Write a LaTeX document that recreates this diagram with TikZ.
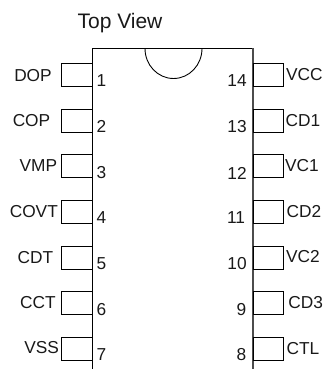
\documentclass[tikz,border=0pt]{standalone}
\usepackage{fontspec}
\setmainfont{Liberation Sans}
\tikzset{
  pinbox/.style={draw=black,line width=0.9pt,minimum width=30.5pt,minimum height=23pt,inner sep=0pt,outer sep=0pt},
  txt/.style={inner sep=0pt,outer sep=0pt,font=\fontsize{17.3}{19}\selectfont,text=black!90},
  titletxt/.style={inner sep=0pt,outer sep=0pt,font=\fontsize{21}{23}\selectfont,text=black!90},
  body/.style={line width=0.9pt,draw=black}
}
\begin{document}
\begin{tikzpicture}[x=1pt,y=-1pt]
\useasboundingbox (0,0) rectangle (326,369);
\coordinate (bl) at (92.3,369);
\coordinate (tl) at (92.3,48.5);
\coordinate (tr) at (253,48.5);
\coordinate (br) at (253,369);
\coordinate (nl) at (145,48.5);
\coordinate (nr) at (202,48.5);
\draw[body] (bl) -- (tl) -- (tr);
\draw[body,draw=black!70,line width=1.1pt] (tr) -- (br);
\draw[body] (nl) arc[start angle=180,end angle=360,x radius=28.5,y radius=-30];
\node[titletxt] (title) at (120,23.5) {Top View};
\foreach \n/\y/\lab/\lx/\ly/\nx/\ny in {
 1/75/DOP/33/75.5/101.5/81,
 2/120.7/COP/31.5/120.5/101.5/126.5,
 3/166.4/VMP/38.3/166/101.5/173,
 4/212/COVT/33.8/211.5/101.5/217.5,
 5/257.6/CDT/35.3/257.5/101.5/264,
 6/303.2/CCT/38/303/101.5/310,
 7/349/VSS/41.7/348/101.5/355}{
  \node[pinbox,anchor=east] (L\n) at (92.3,\y) {};
  \node[txt] (LL\n) at (\lx,\ly) {\lab};
  \node[txt] (LN\n) at (\nx,\ny) {\n};
}
\foreach \n/\y/\lab/\lx/\ly/\nx/\ny in {
 14/75/VCC/304.3/75/237/81,
 13/120.7/CD1/303/120.5/237/126.5,
 12/166.4/VC1/302/166/237/173,
 11/212/CD2/304/212/236/217.5,
 10/257.6/VC2/303/257/237/264,
 9/303.2/CD3/305.7/303/241.5/310,
 8/349/CTL/303/349/241.5/355}{
  \node[pinbox,anchor=west] (R\n) at (253,\y) {};
  \node[txt] (RL\n) at (\lx,\ly) {\lab};
  \node[txt] (RN\n) at (\nx,\ny) {\n};
}
\end{tikzpicture}
\end{document}
